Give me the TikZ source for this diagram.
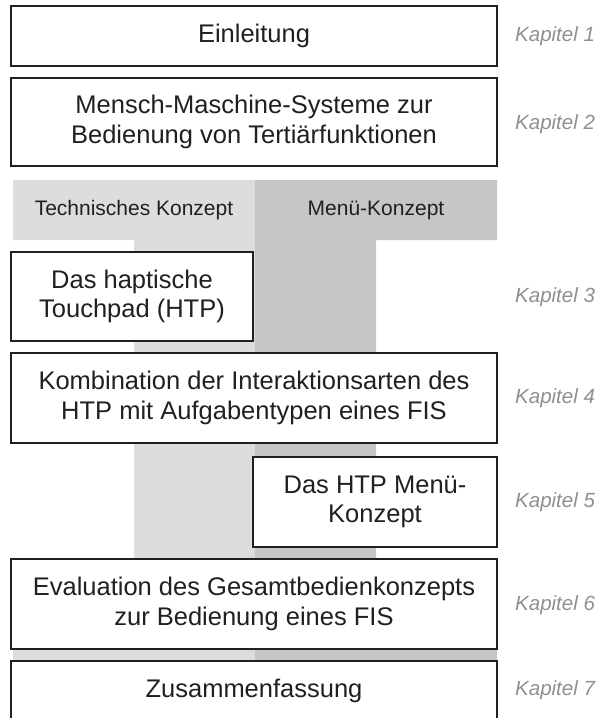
\documentclass[tikz,border=0pt]{standalone}
\usepackage{fontspec}
\setmainfont{Liberation Sans}
\newlength{\du}
\setlength{\du}{1pt}
\definecolor{boxtextcolor}{rgb}{0.137000, 0.122000, 0.125000}
\definecolor{techcolor}{rgb}{0.863000, 0.867000, 0.875000}
\definecolor{menucolor}{rgb}{0.773000, 0.776000, 0.784000}
\definecolor{kapitelcolor}{rgb}{0.560000, 0.560000, 0.560000}
\tikzset{
  chapterbox/.style={draw=boxtextcolor, fill=white, line width=1.300000\du, text=boxtextcolor,
    align=center, inner sep=0pt, font=\fontsize{25.5}{29.5}\selectfont},
  kapitel/.style={text=kapitelcolor, anchor=west, inner sep=0pt, font=\fontsize{20.5}{23}\selectfont\itshape},
  columnhead/.style={text=boxtextcolor, inner sep=0pt, font=\fontsize{21}{24}\selectfont}
}
\begin{document}
\begin{tikzpicture}
\pgftransformxscale{1.000000}
\pgftransformyscale{-1.000000}
\useasboundingbox (0.000000\du,0.000000\du) rectangle (599.000000\du,718.000000\du);
% technisches Konzept
\fill[techcolor] (13.000000\du,180.000000\du)--(13.000000\du,240.000000\du)--(134.000000\du,240.000000\du)--(134.000000\du,649.000000\du)--(13.000000\du,649.000000\du)--(13.000000\du,661.000000\du)--(255.000000\du,661.000000\du)--(255.000000\du,180.000000\du)--cycle;
% Menue-Konzept
\fill[menucolor] (255.000000\du,180.000000\du)--(255.000000\du,661.000000\du)--(497.000000\du,661.000000\du)--(497.000000\du,649.000000\du)--(376.000000\du,649.000000\du)--(376.000000\du,240.000000\du)--(497.000000\du,240.000000\du)--(497.000000\du,180.000000\du)--cycle;
\node[columnhead] (technik) at (134.000000\du,210.000000\du){Technisches Konzept};
\node[columnhead] (menue) at (376.000000\du,210.000000\du){Menü-Konzept};
% chapters
\node[chapterbox, minimum width=486.000000\du, minimum height=60.000000\du] (einleitung) at (254.000000\du,36.000000\du){Einleitung};
\node[chapterbox, minimum width=486.000000\du, minimum height=88.000000\du] (mms) at (254.000000\du,122.000000\du){Mensch-Maschine-Systeme zur\\Bedienung von Tertiärfunktionen};
\node[chapterbox, minimum width=242.000000\du, minimum height=89.000000\du] (htp) at (132.000000\du,296.500000\du){Das haptische\\Touchpad (HTP)};
\node[chapterbox, minimum width=486.000000\du, minimum height=90.000000\du] (kombination) at (254.000000\du,398.000000\du){Kombination der Interaktionsarten des\\HTP mit Aufgabentypen eines FIS};
\node[chapterbox, minimum width=244.000000\du, minimum height=90.000000\du] (menuekonzept) at (375.000000\du,502.000000\du){Das HTP Menü-\\Konzept};
\node[chapterbox, minimum width=486.000000\du, minimum height=90.000000\du] (evaluation) at (254.000000\du,604.000000\du){Evaluation des Gesamtbedienkonzepts\\zur Bedienung eines FIS};
\node[chapterbox, minimum width=486.000000\du, minimum height=60.000000\du] (zusammenfassung) at (254.000000\du,691.000000\du){Zusammenfassung};
% Kapitel
\node[kapitel] (kap1) at (515.000000\du,36.000000\du){Kapitel 1};
\node[kapitel] (kap2) at (515.000000\du,124.000000\du){Kapitel 2};
\node[kapitel] (kap3) at (515.000000\du,297.000000\du){Kapitel 3};
\node[kapitel] (kap4) at (515.000000\du,398.000000\du){Kapitel 4};
\node[kapitel] (kap5) at (515.000000\du,502.000000\du){Kapitel 5};
\node[kapitel] (kap6) at (515.000000\du,605.000000\du){Kapitel 6};
\node[kapitel] (kap7) at (515.000000\du,690.000000\du){Kapitel 7};
\end{tikzpicture}
\end{document}
